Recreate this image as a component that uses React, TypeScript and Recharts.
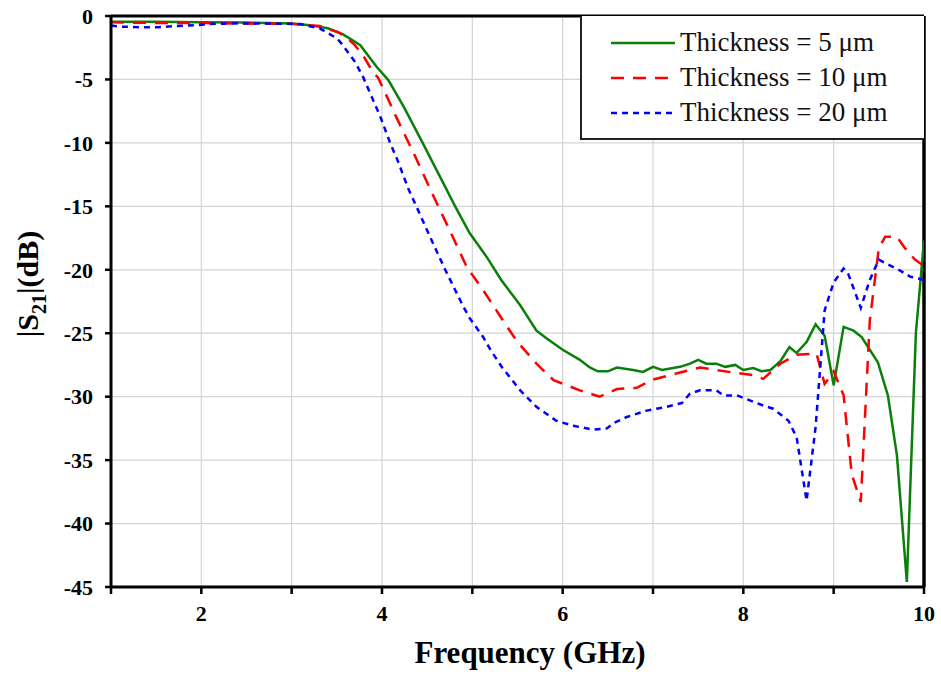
import React from "react";
import {
  LineChart,
  Line,
  XAxis,
  YAxis,
  CartesianGrid,
  Legend,
  ReferenceLine,
} from "recharts";

// Thickness = 5 um (green, solid)
const freq5 = [1.0, 1.5, 2.0, 2.5, 3.0, 3.2, 3.4, 3.57, 3.76, 3.94, 4.07, 4.24, 4.45, 4.63, 4.81, 4.97, 5.16, 5.32, 5.53, 5.71, 5.82, 6.0, 6.19, 6.3, 6.39, 6.5, 6.6, 6.78, 6.89, 7.0, 7.1, 7.3, 7.41, 7.5, 7.59, 7.7, 7.8, 7.91, 8.0, 8.11, 8.2, 8.3, 8.41, 8.51, 8.59, 8.7, 8.8, 8.9, 9.0, 9.11, 9.22, 9.31, 9.4, 9.49, 9.6, 9.7, 9.81, 9.91, 10.0];
const s21_5 = [-0.45, -0.45, -0.5, -0.52, -0.6, -0.72, -0.97, -1.45, -2.3, -4.0, -5.05, -7.15, -10.0, -12.5, -15.0, -17.1, -19.0, -20.8, -22.8, -24.8, -25.4, -26.3, -27.1, -27.7, -28.0, -28.0, -27.7, -27.9, -28.05, -27.65, -27.9, -27.65, -27.4, -27.1, -27.4, -27.4, -27.65, -27.5, -27.9, -27.75, -28.0, -27.9, -27.2, -26.1, -26.55, -25.7, -24.3, -25.2, -29.1, -24.5, -24.8, -25.3, -26.3, -27.3, -29.9, -34.6, -44.6, -25.0, -17.7];

// Thickness = 10 um (red, dashed)
const freq10 = [1.0, 1.5, 2.0, 2.5, 3.0, 3.31, 3.5, 3.59, 3.7, 3.79, 3.89, 3.96, 4.09, 4.14, 4.35, 4.55, 4.75, 4.94, 5.12, 5.34, 5.49, 5.71, 5.9, 6.19, 6.41, 6.6, 6.82, 7.0, 7.3, 7.52, 7.7, 7.89, 8.11, 8.22, 8.41, 8.59, 8.81, 8.9, 9.0, 9.11, 9.2, 9.3, 9.4, 9.5, 9.57, 9.7, 9.79, 9.9, 10.0];
const s21_10 = [-0.5, -0.55, -0.55, -0.6, -0.62, -0.79, -1.24, -1.58, -2.3, -3.1, -4.3, -4.9, -6.9, -7.7, -10.8, -13.9, -16.9, -19.8, -21.6, -24.0, -25.6, -27.4, -28.7, -29.5, -30.0, -29.4, -29.3, -28.65, -28.1, -27.7, -27.9, -28.1, -28.3, -28.6, -27.4, -26.7, -26.6, -29.0, -28.0, -29.9, -36.1, -38.3, -24.0, -18.3, -17.4, -17.4, -18.3, -19.2, -19.7];

// Thickness = 20 um (blue, dotted)
const freq20 = [1.0, 1.12, 1.32, 1.52, 1.73, 1.92, 2.11, 2.32, 2.8, 3.09, 3.31, 3.5, 3.55, 3.7, 3.79, 3.9, 3.98, 4.09, 4.18, 4.29, 4.38, 4.5, 4.59, 4.7, 4.79, 4.9, 4.97, 5.12, 5.2, 5.33, 5.53, 5.71, 5.93, 6.12, 6.34, 6.49, 6.56, 6.71, 6.93, 7.15, 7.32, 7.41, 7.52, 7.7, 7.78, 7.93, 8.11, 8.22, 8.33, 8.5, 8.59, 8.7, 8.8, 8.9, 9.0, 9.11, 9.16, 9.3, 9.4, 9.5, 9.55, 9.72, 9.85, 10.0];
const s21_20 = [-0.75, -0.84, -0.89, -0.89, -0.79, -0.73, -0.63, -0.58, -0.6, -0.63, -0.97, -1.76, -2.16, -3.6, -4.8, -6.6, -7.9, -10.0, -11.5, -13.6, -15.0, -16.9, -18.3, -20.0, -21.3, -22.9, -23.8, -25.3, -26.3, -27.7, -29.5, -30.8, -31.9, -32.3, -32.6, -32.5, -32.1, -31.6, -31.1, -30.8, -30.5, -29.75, -29.5, -29.5, -29.9, -29.9, -30.4, -30.7, -30.95, -31.9, -33.2, -38.2, -32.4, -23.2, -21.0, -19.9, -20.3, -23.0, -20.8, -19.2, -19.4, -20.0, -20.55, -20.8];

const xTicks = [1, 2, 3, 4, 5, 6, 7, 8, 9, 10];
const yTicks = [0, -5, -10, -15, -20, -25, -30, -35, -40, -45];

const toPoints = (f: number[], s: number[]) => f.map((x, i) => ({ f: x, s21: s[i] }));

const series = [
  { name: "Thickness = 5 \u03bcm", data: toPoints(freq5, s21_5), color: "#0a800a", dash: undefined as string | undefined },
  { name: "Thickness = 10 \u03bcm", data: toPoints(freq10, s21_10), color: "#ff0000", dash: "13 9" },
  { name: "Thickness = 20 \u03bcm", data: toPoints(freq20, s21_20), color: "#0000ff", dash: "6 5" },
];

const FONT = '"Liberation Serif", "Times New Roman", serif';

const renderLegend = () => (
  <div
    style={{
      boxSizing: "border-box",
      width: 344,
      height: 124,
      background: "#fff",
      borderLeft: "2px solid #222",
      borderBottom: "2px solid #222",
      paddingTop: 9,
      fontFamily: FONT,
    }}
  >
    {series.map((s) => (
      <div key={s.name} style={{ display: "flex", alignItems: "center", height: 35 }}>
        <svg width={98} height={10}>
          <line x1={29} y1={5} x2={93} y2={5} stroke={s.color} strokeWidth={2.5} strokeDasharray={s.dash} />
        </svg>
        <span style={{ fontSize: 27, color: "#111", whiteSpace: "nowrap" }}>{s.name}</span>
      </div>
    ))}
  </div>
);

const renderYLabel = () => (
  <text
    transform="translate(38,284) rotate(-90)"
    textAnchor="middle"
    fontFamily={FONT}
    fontWeight="bold"
    fontSize={30}
    fill="#000"
  >
    |S
    <tspan fontSize={20} dy={8}>21</tspan>
    <tspan dy={-8}>|(dB)</tspan>
  </text>
);

const renderXLabel = () => (
  <text x={530} y={663} textAnchor="middle" fontFamily={FONT} fontWeight="bold" fontSize={31} fill="#000">
    Frequency (GHz)
  </text>
);

export default function App() {
  return (
    <div style={{ width: 941, height: 675, background: "#fff" }}>
      <style>{"body{margin:0;}"}</style>
      <LineChart width={941} height={675} margin={{ top: 16, right: 17, left: 0, bottom: 0 }}>
        <CartesianGrid stroke="#d4d4d4" strokeWidth={1.2} />
        <XAxis
          dataKey="f"
          type="number"
          domain={[1, 10]}
          ticks={xTicks}
          allowDataOverflow
          height={88}
          tickFormatter={(v: number) => (v % 2 === 0 ? String(v) : "")}
          tick={{ fontFamily: FONT, fontWeight: "bold", fontSize: 22, fill: "#000" }}
          tickSize={7}
          tickMargin={11}
          axisLine={{ stroke: "#000", strokeWidth: 3 }}
          tickLine={{ stroke: "#000", strokeWidth: 2.5 }}
          label={renderXLabel}
        />
        <YAxis
          type="number"
          domain={[-45, 0]}
          ticks={yTicks}
          allowDataOverflow
          width={111}
          tick={{ fontFamily: FONT, fontWeight: "bold", fontSize: 22, fill: "#000" }}
          tickSize={6}
          tickMargin={12}
          axisLine={{ stroke: "#000", strokeWidth: 3 }}
          tickLine={{ stroke: "#000", strokeWidth: 2.5 }}
          label={renderYLabel}
        />
        <ReferenceLine y={0} stroke="#000" strokeWidth={3} />
        <ReferenceLine x={10} stroke="#000" strokeWidth={3.5} />
        {series.map((s) => (
          <Line
            key={s.name}
            data={s.data}
            dataKey="s21"
            name={s.name}
            type="linear"
            stroke={s.color}
            strokeWidth={2.5}
            strokeDasharray={s.dash}
            dot={false}
            activeDot={false}
            isAnimationActive={false}
          />
        ))}
        <Legend
          layout="vertical"
          align="center"
          verticalAlign="middle"
          content={renderLegend}
          wrapperStyle={{ position: "absolute", left: 580, top: 16, width: 344, height: 124 }}
        />
      </LineChart>
    </div>
  );
}
